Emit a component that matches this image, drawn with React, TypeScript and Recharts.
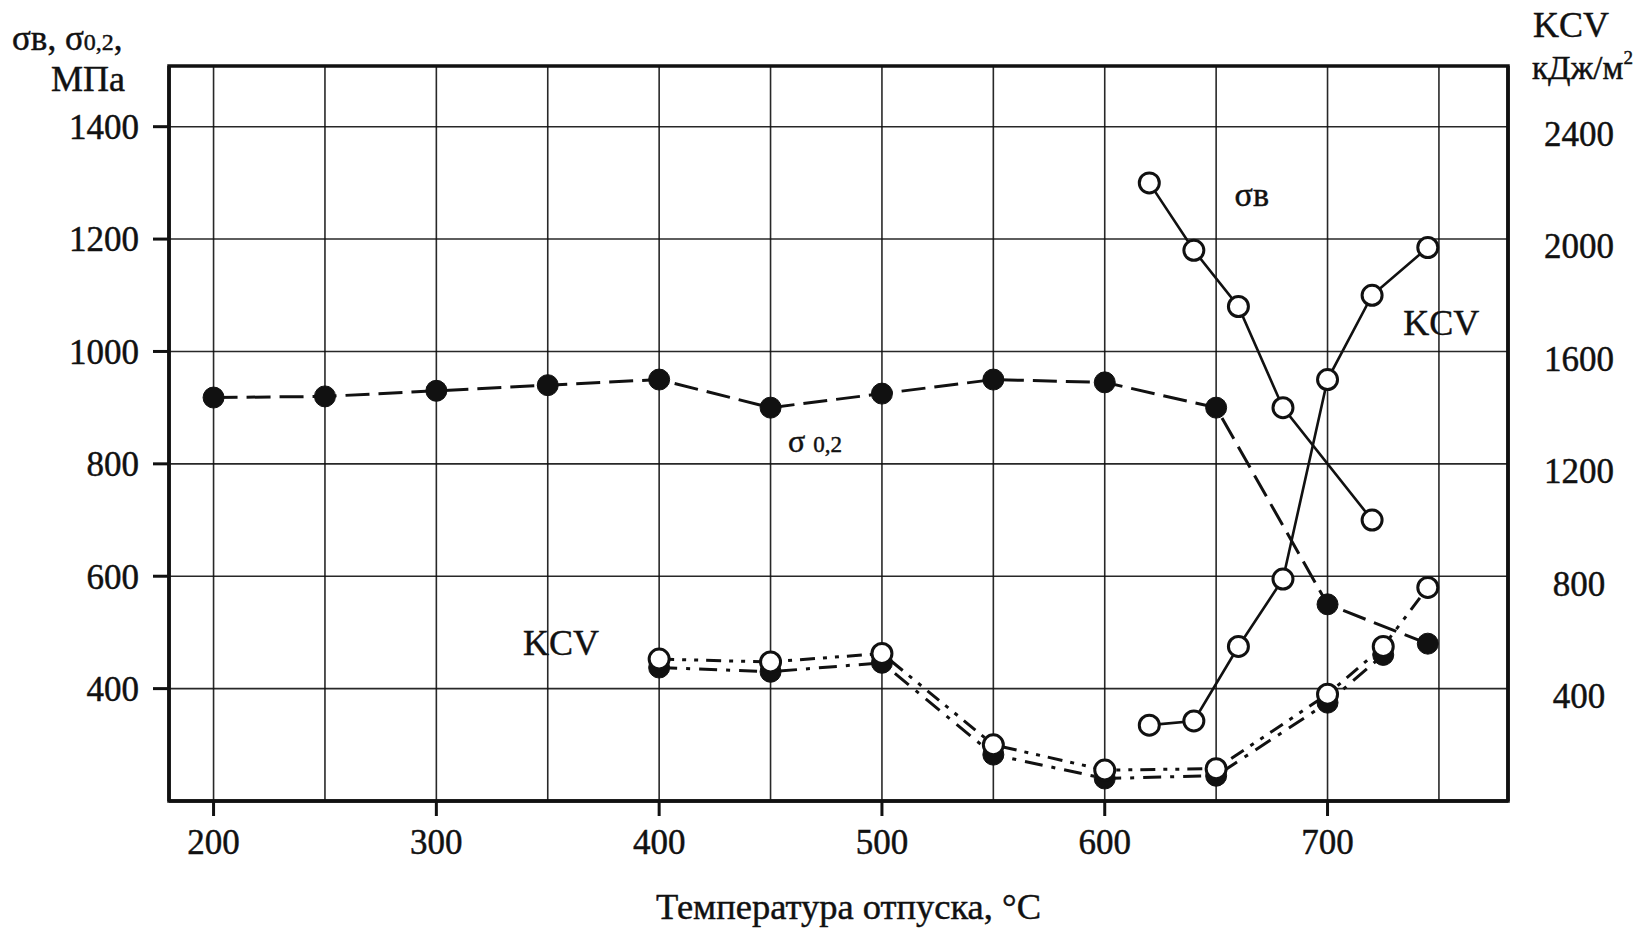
import React from 'react';
import {
  ComposedChart,
  Line,
  XAxis,
  YAxis,
  CartesianGrid,
  ReferenceArea,
  ReferenceDot,
  Label,
} from 'recharts';

// ---------- axes ----------
const xDomain = [180, 781];
const leftDomain = [200, 1508];
const rightDomain = [0, 2616];
const xTicks = [200, 250, 300, 350, 400, 450, 500, 550, 600, 650, 700, 750];
const leftTicks = [400, 600, 800, 1000, 1200, 1400];
const rightTicks = [400, 800, 1200, 1600, 2000, 2400];

// ---------- series ----------
// σ0,2 (filled circles, long dashes) – left axis, MPa
const sigma02T = [200, 250, 300, 350, 400, 450, 500, 550, 600, 650, 700, 745];
const sigma02V = [918, 920, 930, 940, 950, 900, 925, 950, 945, 900, 550, 480];
// σв (open circles, solid) – left axis, MPa
const sigmaBT = [620, 640, 660, 680, 720];
const sigmaBV = [1300, 1180, 1080, 900, 700];
// KCV (open circles, solid) – right axis, kJ/m2
const kcvUpT = [620, 640, 660, 680, 700, 720, 745];
const kcvUpV = [270, 285, 550, 790, 1500, 1800, 1970];
// KCV lower (open circles, dash-dot) – right axis
const kcvOpenT = [400, 450, 500, 550, 600, 650, 700, 725, 745];
const kcvOpenV = [505, 495, 525, 200, 110, 115, 380, 550, 760];
// KCV lower (filled circles, dash-dot) – right axis
const kcvFillT = [400, 450, 500, 550, 600, 650, 700, 725];
const kcvFillV = [475, 460, 492, 165, 80, 90, 350, 520];

const toRows = (t: number[], v: number[]) => t.map((x, i) => ({ x, y: v[i] }));
const sigma02 = toRows(sigma02T, sigma02V);
const sigmaB = toRows(sigmaBT, sigmaBV);
const kcvUp = toRows(kcvUpT, kcvUpV);
const kcvOpen = toRows(kcvOpenT, kcvOpenV);
const kcvFill = toRows(kcvFillT, kcvFillV);

const FONT = '"Liberation Serif", "Times New Roman", serif';
const INK = '#111';
const TXT = { stroke: INK, strokeWidth: 0.45 };

const openDot = { r: 10, fill: '#fff', stroke: INK, strokeWidth: 3, strokeDasharray: 'none' };
const fillDot = { r: 10.5, fill: INK, stroke: INK, strokeWidth: 1, strokeDasharray: 'none' };

const XTick = (props: any) => {
  const { x, y, payload } = props;
  if (payload.value % 100 !== 0) return <g />;
  return (
    <g>
      <line x1={x} x2={x} y1={y} y2={y + 15} stroke={INK} strokeWidth={3} />
      <text x={x} y={y + 41} dy="0.355em" textAnchor="middle" fontFamily={FONT} fontSize={35} fill={INK} {...TXT}>
        {payload.value}
      </text>
    </g>
  );
};

const RightTick = (props: any) => {
  const { x, y, payload } = props;
  return (
    <text x={x + 71} y={y + 7} dy="0.355em" textAnchor="middle" fontFamily={FONT} fontSize={35} fill={INK} {...TXT}>
      {payload.value}
    </text>
  );
};

const LeftTitle = (props: any) => {
  const vb = props.viewBox || { x: 0, y: 66, width: 169 };
  return (
    <g fontFamily={FONT} fill={INK} {...TXT}>
      <text x={12} y={vb.y - 16} fontSize={35}>
        <tspan>σв, σ</tspan>
        <tspan fontSize={24}>0,2</tspan>
        <tspan>,</tspan>
      </text>
      <text x={125} y={vb.y + 25} fontSize={36} textAnchor="end">
        МПа
      </text>
    </g>
  );
};

const RightTitle = (props: any) => {
  const vb = props.viewBox || { x: 1508, y: 66, width: 140 };
  return (
    <g fontFamily={FONT} fill={INK} {...TXT}>
      <text x={vb.x + 25} y={vb.y - 29} fontSize={36}>
        KCV
      </text>
      <text x={vb.x + 24} y={vb.y + 13} fontSize={33}>
        <tspan>кДж/м</tspan>
        <tspan fontSize={19} dy={-15}>2</tspan>
      </text>
    </g>
  );
};

const XTitle = (props: any) => {
  const vb = props.viewBox || { x: 169, y: 801, width: 1339 };
  return (
    <text
      x={vb.x + vb.width / 2 + 10}
      y={vb.y + 118}
      textAnchor="middle"
      fontFamily={FONT}
      fontSize={36.5}
      fill={INK}
      {...TXT}
    >
      Температура отпуска, °С
    </text>
  );
};

const annot = (main: string, sub: string, size: number, subSize: number) => (props: any) => {
  const vb = props.viewBox;
  const cx = vb.x + (vb.width || 0) / 2;
  const cy = vb.y + (vb.height || 0) / 2;
  return (
    <text x={cx} y={cy} dy="0.355em" textAnchor="middle" fontFamily={FONT} fill={INK} fontSize={size} {...TXT}>
      <tspan>{main}</tspan>
      {sub ? <tspan fontSize={subSize}>{sub}</tspan> : null}
    </text>
  );
};

export default function App() {
  return (
    <div style={{ position: 'absolute', left: 0, top: 0, background: '#fff' }}>
      <ComposedChart width={1648} height={930} margin={{ top: 66, right: 0, bottom: 0, left: 0 }}>
        <CartesianGrid
          yAxisId="left"
          stroke={INK}
          strokeWidth={1.6}
          strokeOpacity={0.9}
          fill="none"
        />
        <XAxis
          type="number"
          dataKey="x"
          domain={xDomain}
          ticks={xTicks}
          allowDataOverflow
          height={129}
          tickSize={0}
          tickMargin={0}
          tickLine={false}
          axisLine={{ stroke: INK, strokeWidth: 3.5 }}
          tick={<XTick />}
          interval={0}
        >
          <Label content={<XTitle />} />
        </XAxis>
        <YAxis
          yAxisId="left"
          type="number"
          domain={leftDomain}
          ticks={leftTicks}
          allowDataOverflow
          width={169}
          tickSize={16}
          tickMargin={14}
          tickLine={{ stroke: INK, strokeWidth: 3 }}
          axisLine={{ stroke: INK, strokeWidth: 3.5 }}
          tick={{ fontFamily: FONT, fontSize: 35, fill: INK, stroke: INK, strokeWidth: 0.45 }}
          interval={0}
        >
          <Label content={<LeftTitle />} />
        </YAxis>
        <YAxis
          yAxisId="right"
          orientation="right"
          type="number"
          domain={rightDomain}
          ticks={rightTicks}
          allowDataOverflow
          width={140}
          tickSize={0}
          tickMargin={0}
          tickLine={false}
          axisLine={{ stroke: INK, strokeWidth: 3.5 }}
          tick={<RightTick />}
          interval={0}
        >
          <Label content={<RightTitle />} />
        </YAxis>

        <ReferenceArea
          yAxisId="left"
          x1={xDomain[0]}
          x2={xDomain[1]}
          y1={leftDomain[0]}
          y2={leftDomain[1]}
          fill="none"
          stroke={INK}
          strokeWidth={3.5}
          ifOverflow="visible"
        />

        <Line
          yAxisId="left"
          data={sigma02}
          dataKey="y"
          stroke={INK}
          strokeWidth={3}
          strokeDasharray="24 9"
          dot={fillDot}
          activeDot={false}
          isAnimationActive={false}
        />
        <Line
          yAxisId="right"
          data={kcvFill}
          dataKey="y"
          stroke={INK}
          strokeWidth={3}
          strokeDasharray="18 9 4 9"
          dot={fillDot}
          activeDot={false}
          isAnimationActive={false}
        />
        <Line
          yAxisId="right"
          data={kcvOpen}
          dataKey="y"
          stroke={INK}
          strokeWidth={3}
          strokeDasharray="15 8 4 8 4 8"
          dot={openDot}
          activeDot={false}
          isAnimationActive={false}
        />
        <Line
          yAxisId="left"
          data={sigmaB}
          dataKey="y"
          stroke={INK}
          strokeWidth={2.6}
          dot={openDot}
          activeDot={false}
          isAnimationActive={false}
        />
        <Line
          yAxisId="right"
          data={kcvUp}
          dataKey="y"
          stroke={INK}
          strokeWidth={2.6}
          dot={openDot}
          activeDot={false}
          isAnimationActive={false}
        />

        <ReferenceDot yAxisId="left" x={666} y={1281} r={0} fill="none" stroke="none" label={<Label content={annot('σв', '', 34, 0)} />} />
        <ReferenceDot yAxisId="left" x={470} y={842} r={0} fill="none" stroke="none" label={<Label content={annot('σ ', '0,2', 32, 23)} />} />
        <ReferenceDot yAxisId="left" x={356} y={482} r={0} fill="none" stroke="none" label={<Label content={annot('KCV', '', 36, 0)} />} />
        <ReferenceDot yAxisId="left" x={751} y={1052} r={0} fill="none" stroke="none" label={<Label content={annot('KCV', '', 36, 0)} />} />
      </ComposedChart>
    </div>
  );
}
